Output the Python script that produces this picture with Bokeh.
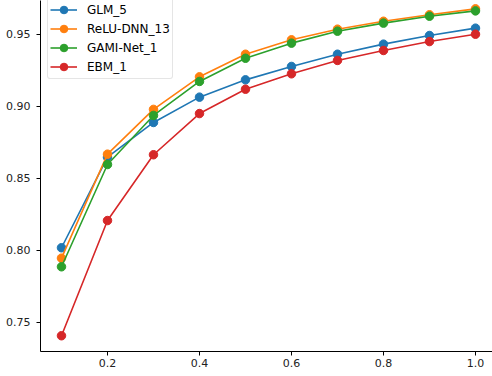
from bokeh.plotting import figure
from bokeh.models import FixedTicker, Range1d, Legend, PrintfTickFormatter
from bokeh.embed import file_html
from bokeh.resources import INLINE

x_vals = [0.1, 0.2, 0.3, 0.4, 0.5, 0.6, 0.7, 0.8, 0.9, 1.0]
glm_5 = [0.8019, 0.8648, 0.8889, 0.9065, 0.9185, 0.9278, 0.9363, 0.9433, 0.9493, 0.9544]
relu_dnn_13 = [0.7947, 0.8669, 0.8980, 0.9206, 0.9363, 0.9463, 0.9537, 0.9592, 0.9637, 0.9678]
gami_net_1 = [0.7887, 0.8597, 0.8938, 0.9174, 0.9335, 0.9440, 0.9523, 0.9579, 0.9627, 0.9664]
ebm_1 = [0.7408, 0.8208, 0.8665, 0.8951, 0.9120, 0.9227, 0.9320, 0.9389, 0.9451, 0.9502]

series_names = ["GLM_5", "ReLU-DNN_13", "GAMI-Net_1", "EBM_1"]
series_values = [glm_5, relu_dnn_13, gami_net_1, ebm_1]
series_colors = ["#1f77b4", "#ff7f0e", "#2ca02c", "#d62728"]

x_ticks = [0.2, 0.4, 0.6, 0.8, 1.0]
y_ticks = [0.75, 0.80, 0.85, 0.90, 0.95]

p = figure(width=492, height=376, output_backend="svg", toolbar_location=None,
           x_range=Range1d(0.05435, 1.0370), y_range=Range1d(0.72986, 0.97361),
           min_border_left=40, min_border_right=0, min_border_top=0, min_border_bottom=25)

p.grid.visible = False
p.outline_line_color = None
p.background_fill_color = "white"
p.border_fill_color = "white"

font = "DejaVu Sans"
for ax in (p.xaxis[0], p.yaxis[0]):
    ax.axis_line_color = "black"
    ax.axis_line_width = 1
    ax.major_tick_line_color = "black"
    ax.major_tick_out = 4
    ax.major_tick_in = 0
    ax.minor_tick_line_color = None
    ax.major_label_text_font = font
    ax.major_label_text_font_size = "11px"
    ax.major_label_text_color = "#222222"

p.xaxis[0].ticker = FixedTicker(ticks=x_ticks)
p.xaxis[0].formatter = PrintfTickFormatter(format="%.1f")
p.xaxis[0].major_label_standoff = 3
p.yaxis[0].ticker = FixedTicker(ticks=y_ticks)
p.yaxis[0].formatter = PrintfTickFormatter(format="%.2f")
p.yaxis[0].major_label_standoff = 6

items = []
for name, vals, col in zip(series_names, series_values, series_colors):
    r1 = p.line(x_vals, vals, line_color=col, line_width=1.6)
    r2 = p.scatter(x_vals, vals, size=8.5, fill_color=col, line_color=col)
    items.append((name, [r1, r2]))

legend = Legend(items=items, location=(7, 272))
legend.label_text_font = font
legend.label_text_font_size = "12px"
legend.label_text_color = "black"
legend.glyph_width = 27
legend.glyph_height = 19
legend.label_height = 19
legend.label_standoff = 10
legend.spacing = 0
legend.padding = 2
legend.margin = 0
legend.border_line_color = "#cccccc"
legend.border_line_width = 1
legend.border_radius = 3
legend.background_fill_alpha = 0.8
p.add_layout(legend, "center")

open("out.html", "w").write(file_html(p, INLINE))
